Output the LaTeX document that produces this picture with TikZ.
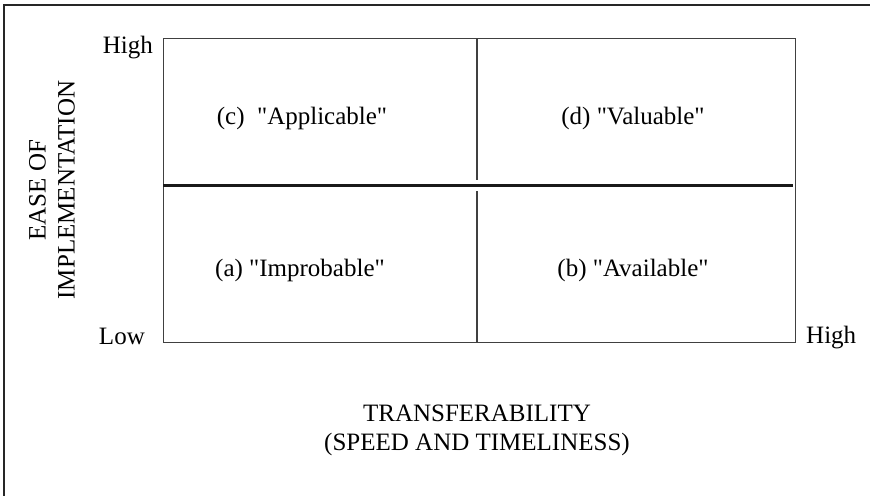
\documentclass[tikz,border=0pt]{standalone}
\usepackage{fontspec}
\setmainfont{Liberation Serif}[Ligatures=TeXOff]
\begin{document}
\begin{tikzpicture}[x=1pt,y=-1pt,
  lbl/.style={inner sep=0pt, font=\fontsize{25}{29}\selectfont},
  frame/.style={line width=1.3pt, draw=black!85},
  grid/.style={line width=1.1pt, draw=black!75},
  divider/.style={line width=3pt, draw=black!90}]
\useasboundingbox (0,0) rectangle (870,496);
% outer frame (top and left edges)
\coordinate (fTL) at (4,5);
\coordinate (fTR) at (870,5);
\coordinate (fBL) at (4,496);
\draw[frame] (fTR) -- (fTL) -- (fBL);
% matrix box
\node[draw, grid, minimum width=632pt, minimum height=304pt, inner sep=0pt, anchor=north west] (box) at (163,38) {};
% horizontal divider
\coordinate (hL) at (163,185);
\coordinate (hR) at (793,185);
\draw[divider] (hL) -- (hR);
% vertical divider, with a gap at the horizontal one
\coordinate (vT) at (477,38);
\coordinate (vU) at (477,180);
\coordinate (vD) at (477,191);
\coordinate (vB) at (477,342);
\draw[grid] (vT) -- (vU);
\draw[grid] (vD) -- (vB);
% axis end labels
\node[lbl, anchor=base east] (yhigh) at (153,53) {High};
\node[lbl, anchor=base east] (ylow) at (145,344) {Low};
\node[lbl, anchor=base west] (xhigh) at (806,343) {High};
% quadrant labels
\node[lbl, anchor=base] (qc) at (302,124) {(c)\ \ "Applicable"};
\node[lbl, anchor=base] (qd) at (633,124) {(d) "Valuable"};
\node[lbl, anchor=base] (qa) at (300,276) {(a) "Improbable"};
\node[lbl, anchor=base] (qb) at (633,276) {(b) "Available"};
% axis titles
\node[lbl, align=center, anchor=base] (xt1) at (477,421) {TRANSFERABILITY};
\node[lbl, align=center, anchor=base] (xt2) at (477,450) {(SPEED AND TIMELINESS)};
\node[lbl, align=center, rotate=90] (yt) at (52,190) {EASE OF\\IMPLEMENTATION};
\end{tikzpicture}
\end{document}
